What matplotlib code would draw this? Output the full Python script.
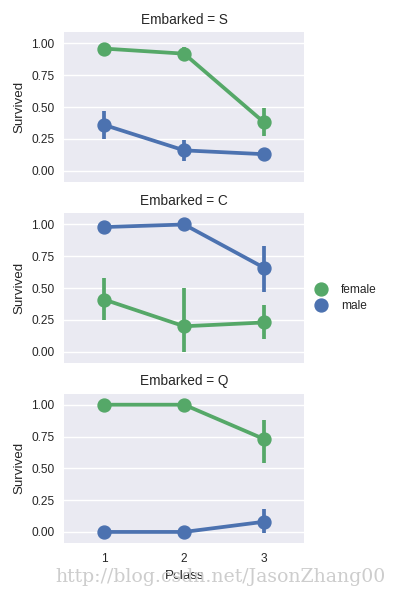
import matplotlib
matplotlib.use("Agg")
import matplotlib.pyplot as plt
from matplotlib.lines import Line2D

plt.rcParams['font.family'] = ['Liberation Sans', 'DejaVu Sans']

# ---- data ----
pclass = ["1", "2", "3"]
embarked = ["S", "C", "Q"]
hue_labels = ["female", "male"]
hue_colors = ["#55A868", "#4C72B0"]

# mean survival per facet, per hue (as drawn)
female_mean = {"S": [0.96, 0.92, 0.38], "C": [0.41, 0.20, 0.23], "Q": [1.00, 1.00, 0.73]}
female_lo   = {"S": [0.90, 0.86, 0.27], "C": [0.25, 0.00, 0.10], "Q": [1.00, 1.00, 0.54]}
female_hi   = {"S": [1.00, 0.97, 0.49], "C": [0.58, 0.50, 0.37], "Q": [1.00, 1.00, 0.88]}
male_mean   = {"S": [0.36, 0.16, 0.13], "C": [0.98, 1.00, 0.66], "Q": [0.00, 0.00, 0.08]}
male_lo     = {"S": [0.25, 0.08, 0.11], "C": [0.93, 1.00, 0.47], "Q": [0.00, 0.00, -0.01]}
male_hi     = {"S": [0.47, 0.24, 0.16], "C": [1.00, 1.00, 0.83], "Q": [0.00, 0.00, 0.18]}

yticks = [0.0, 0.25, 0.5, 0.75, 1.0]
watermark = "http://blog.csdn.net/JasonZhang00"

W, H = 396, 596
fig = plt.figure(figsize=(W / 100, H / 100), dpi=100)
fig.patch.set_facecolor("white")

text_color = "#262626"
ax_left, ax_w, ax_h = 64.3 / W, 239.7 / W, 149.5 / H
tops = [32.3, 213.3, 393.5]

axes = []
for i, emb in enumerate(embarked):
    ax = fig.add_axes([ax_left, 1 - (tops[i] + 149.5) / H, ax_w, ax_h])
    ax.set_facecolor("#EAEAF2")
    for s in ax.spines.values():
        s.set_visible(False)
    ax.set_axisbelow(True)
    ax.yaxis.grid(True, color="white", linewidth=1.0)
    ax.xaxis.grid(False)
    xs = list(range(len(pclass)))
    series = [(female_mean, female_lo, female_hi), (male_mean, male_lo, male_hi)]
    for (m, lo, hi), col in zip(series, hue_colors):
        ax.plot(xs, m[emb], color=col, linewidth=2.7, marker="o", markersize=9.3,
                solid_capstyle="round", zorder=3)
        ax.vlines(xs, lo[emb], hi[emb], color=col, linewidth=2.7, zorder=3)
    ax.set_xlim(-0.5, 2.5)
    ax.set_ylim(-0.087, 1.088)
    ax.set_yticks(yticks)
    ax.set_yticklabels([f"{v:.2f}" for v in yticks])
    ax.set_xticks(xs)
    ax.tick_params(axis="both", length=0, labelsize=8.6, colors=text_color, pad=7)
    ax.set_ylabel("Survived", fontsize=9.6, color=text_color, labelpad=4)
    ax.set_title(f"Embarked = {emb}", fontsize=9.8, color=text_color, pad=6)
    if i < 2:
        ax.set_xticklabels([])
    else:
        ax.set_xticklabels(pclass)
        ax.set_xlabel("Pclass", fontsize=9.6, color=text_color, labelpad=4)
    axes.append(ax)

handles = [Line2D([0], [0], marker="o", color=c, linestyle="none", markersize=9.3)
           for c in hue_colors]
fig.legend(handles, hue_labels, loc="center left", bbox_to_anchor=(298 / W, 1 - 298 / H),
           frameon=False, fontsize=8.6, handletextpad=0.7, labelspacing=0.3,
           labelcolor=text_color)

# watermark, scaled to span the same width as in the reference
wm = fig.text(55 / W, 1 - 577 / H, watermark, fontsize=12,
              family=["DejaVu Serif"], color="#cdcdcd",
              va="center", ha="left", zorder=0)
fig.canvas.draw()
ext = wm.get_window_extent()
wm.set_fontsize(12 * 330.0 / ext.width)

fig.savefig("out.png", dpi=100)
